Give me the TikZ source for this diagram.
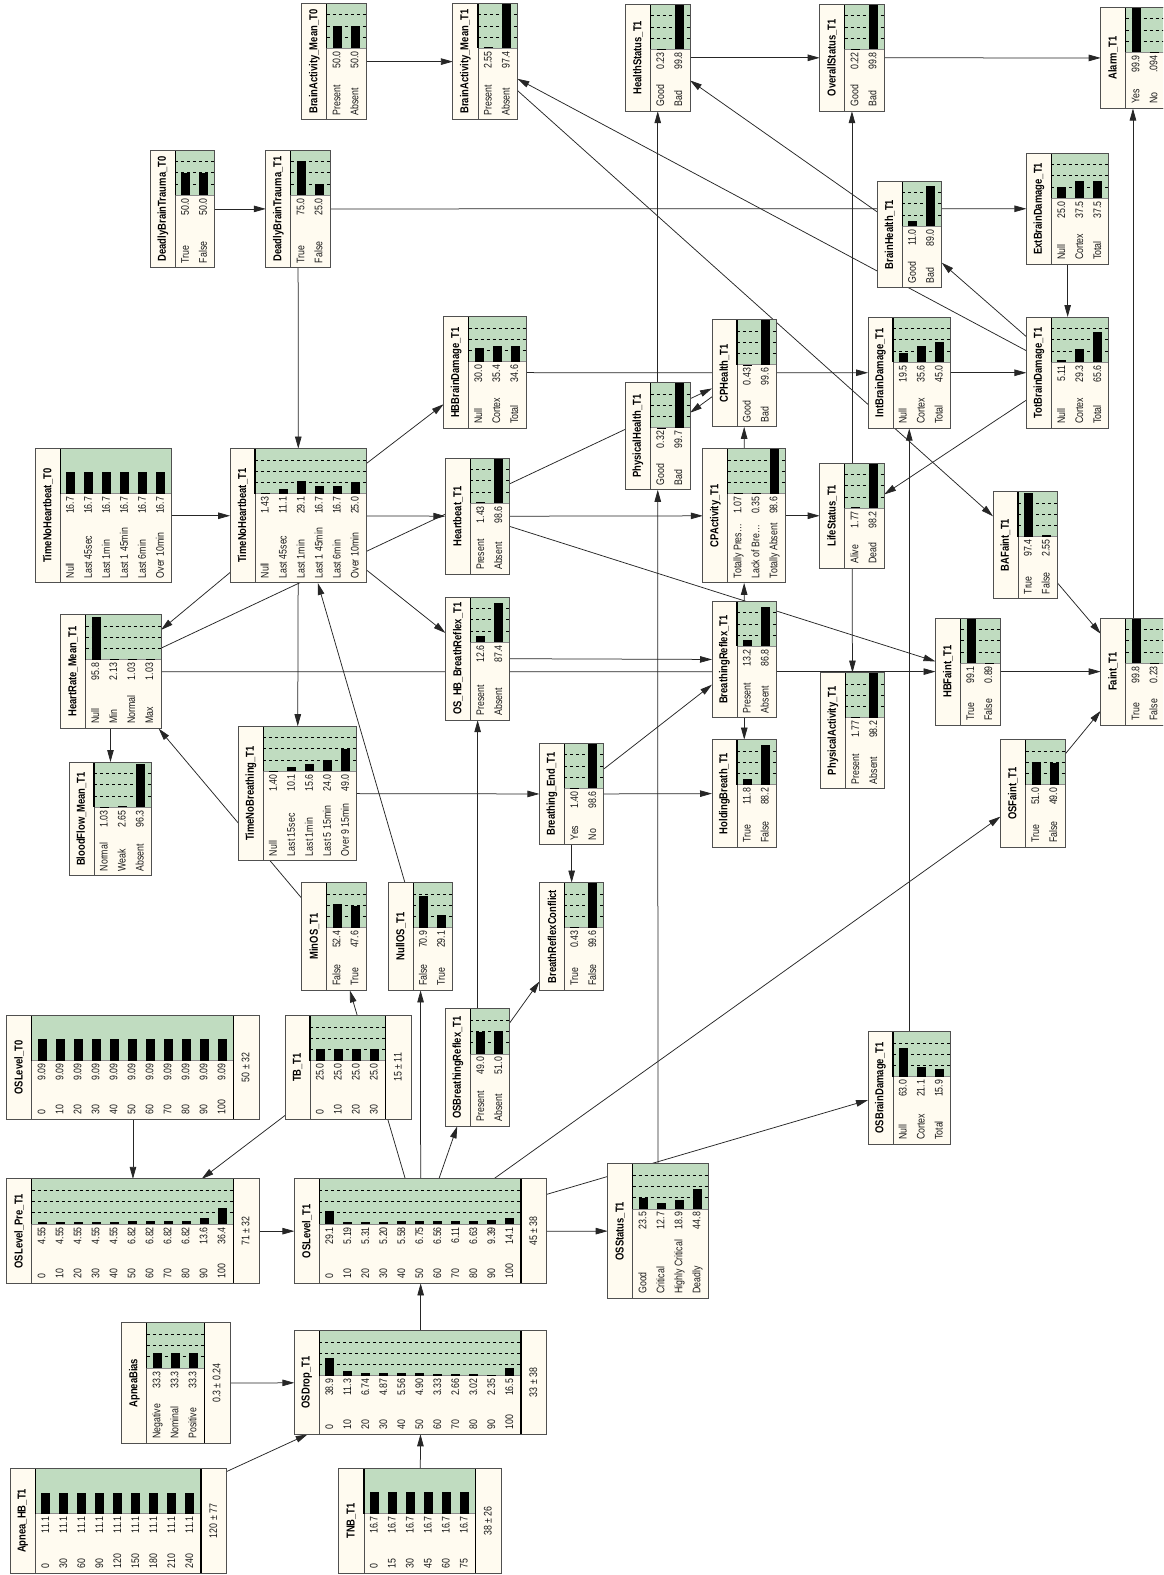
\documentclass[tikz,border=0pt]{standalone}
\usepackage{fontspec}
\newfontfamily\nf[FakeStretch=0.8]{Liberation Sans}
\newfontfamily\tf[FakeStretch=0.82]{Liberation Sans}
\usetikzlibrary{arrows.meta}
\pgfdeclarelayer{bg}\pgfsetlayers{bg,main}
\definecolor{cream}{HTML}{FFFBF0}
\definecolor{mgreen}{HTML}{C0DCC0}
\definecolor{bcol}{HTML}{505050}
\tikzset{
 lbl/.style={font=\nf\fontsize{11}{11}\selectfont, inner sep=0pt, rotate=90, text=black!90, text height=8pt, text depth=1.8pt},
 ttl/.style={font=\tf\bfseries\fontsize{11.5}{11.5}\selectfont, inner sep=0pt, rotate=90},
 lnk/.style={draw=black!85, line width=0.75pt, -{Triangle[length=12pt,width=6.5pt]}},
}
% #1 name, #2 x0, #3 y0, #4 height, #5 number of states, #6 title, #7 label/value list, #8 mean text, #9 bar scale (1 = dashed grid)
\newcommand{\bn}[9]{%
  \pgfmathsetmacro\Xa{#2}%
  \pgfmathsetmacro\Ya{#3}%
  \pgfmathsetmacro\Yb{#3+#4}%
  \pgfmathsetmacro\Xt{#2+25}%
  \pgfmathsetmacro\Xg{#2+25+21.5+18*(#5-1)}%
  \def\bnmean{#8}%
  \ifx\bnmean\empty\let\Xb\Xg\else\pgfmathsetmacro\Xb{\Xg+26}\fi
  \pgfmathsetmacro\Yg{#3+45}%
  \pgfmathsetmacro\Wd{\Xb-\Xa}%
  \node[draw=bcol, line width=1pt, fill=cream, inner sep=0pt, outer sep=0pt, minimum width=\Wd pt, minimum height=#4 pt] (#1) at ({(\Xa+\Xb)/2},{(\Ya+\Yb)/2}) {};
  \fill[mgreen] (\Xt,\Ya) rectangle (\Xg,\Yg);
  \ifdim#9pt=1pt
    \foreach \f in {0.25,0.5,0.75}{\draw[black, line width=0.5pt, dash pattern=on 3pt off 3pt] (\Xt,{\Yg-45*\f}) -- (\Xg,{\Yg-45*\f});}
  \fi
  \draw[black!45, line width=0.5pt] (\Xt,\Yg) -- (\Xg,\Yg);
  \foreach \lab/\val [count=\i from 0] in {#7}{%
    \pgfmathsetmacro\cx{\Xt+10.5+18*\i}%
    \pgfmathsetmacro\bh{min(\val*#9,100)*0.45}%
    \fill[black] ({\cx-4.5},\Yg) rectangle ({\cx+4.5},{\Yg-\bh});
    \node[lbl, anchor=west] at (\cx,{\Yb-4.5}) {\lab};
    \node[lbl, anchor=east] at (\cx,{\Yg+3}) {\val};
  }%
  \draw[bcol, line width=0.8pt] (\Xt,\Ya) -- (\Xt,\Yb);
  \draw[black, line width=1.3pt] (\Xt,\Ya) -- (\Xt,\Yg);
  \ifx\bnmean\empty\else
    \draw[black, line width=1.3pt] (\Xg,\Ya) -- (\Xg,\Yb);
    \node[lbl] at ({\Xg+13},{(\Ya+\Yb)/2}) {#8};
  \fi
  \draw[bcol, line width=1pt] (\Xa,\Ya) rectangle (\Xb,\Yb);
  \node[ttl] at ({\Xa+12.5},{(\Ya+\Yb)/2}) {#6};
}
\begin{document}
\begin{tikzpicture}[x=1pt,y=-1pt]
\useasboundingbox (0,0) rectangle (1163,1575);
\clip (0,0) rectangle (1163,1575);
\bn{bat0}{301.8}{3.3}{116.6}{2}{BrainActivity\_Mean\_T0}{Present/50.0,Absent/50.0}{}{1}
\bn{bat1}{452.9}{3.3}{116.6}{2}{BrainActivity\_Mean\_T1}{Present/2.55,Absent/97.4}{}{1}
\bn{hs}{625.5}{4.4}{106.8}{2}{HealthStatus\_T1}{Good/0.23,Bad/99.8}{}{1}
\bn{ovs}{819.7}{4.4}{106.8}{2}{OverallStatus\_T1}{Good/0.22,Bad/99.8}{}{1}
\bn{alarm}{1100.7}{7.4}{101.1}{2}{Alarm\_T1}{Yes/99.9,No/.094}{}{1}
\bn{dbt0}{150.3}{150}{117.8}{2}{DeadlyBrainTrauma\_T0}{True/50.0,False/50.0}{}{1}
\bn{dbt1}{265.8}{150}{117.8}{2}{DeadlyBrainTrauma\_T1}{True/75.0,False/25.0}{}{1}
\bn{brainh}{877.2}{181.1}{106.8}{2}{BrainHealth\_T1}{Good/11.0,Bad/89.0}{}{1}
\bn{extbd}{1026.4}{153}{111.5}{3}{ExtBrainDamage\_T1}{Null/25.0,Cortex/37.5,Total/37.5}{}{1}
\bn{hbbd}{443.6}{316.7}{111.8}{3}{HBBrainDamage\_T1}{Null/30.0,Cortex/35.4,Total/34.6}{}{1}
\bn{cph}{712}{319.7}{107.2}{2}{CPHealth\_T1}{Good/0.43,Bad/99.6}{}{1}
\bn{physh}{625.5}{382.7}{107.1}{2}{PhysicalHealth\_T1}{Good/0.32,Bad/99.7}{}{1}
\bn{intbd}{868}{317}{111.5}{3}{IntBrainDamage\_T1}{Null/19.5,Cortex/35.6,Total/45.0}{}{1}
\bn{totbd}{1026.4}{317}{111.5}{3}{TotBrainDamage\_T1}{Null/5.11,Cortex/29.3,Total/65.6}{}{1}
\bn{tnh0}{35.3}{448.6}{134.3}{6}{TimeNoHeartbeat\_T0}{Null/16.7,Last 45sec/16.7,Last 1min/16.7,Last 1 45min/16.7,Last 6min/16.7,Over 10min/16.7}{}{2.9}
\bn{tnh1}{230.1}{448.6}{134.3}{6}{TimeNoHeartbeat\_T1}{Null/1.43,Last 45sec/11.1,Last 1min/29.1,Last 1 45min/16.7,Last 6min/16.7,Over 10min/25.0}{}{1}
\bn{hb}{445.4}{458}{116.5}{2}{Heartbeat\_T1}{Present/1.43,Absent/98.6}{}{1}
\bn{cpact}{702.8}{448.6}{134.3}{3}{CPActivity\_T1}{Totally Pres\ldots/1.07,Lack of Bre\ldots/0.35,Totally Absent/98.6}{}{1}
\bn{life}{819.7}{463}{105.5}{2}{LifeStatus\_T1}{Alive/1.77,Dead/98.2}{}{1}
\bn{bafaint}{993}{491.5}{107.2}{2}{BAFaint\_T1}{True/97.4,False/2.55}{}{1}
\bn{hr}{60.5}{614.7}{113.9}{4}{HeartRate\_Mean\_T1}{Null/95.8,Min/2.13,Normal/1.03,Max/1.03}{}{1}
\bn{oshb}{445.4}{597}{123.2}{2}{OS\_HB\_BreathReflex\_T1}{Present/12.6,Absent/87.4}{}{1}
\bn{breflex}{712}{601.3}{116.5}{2}{BreathingReflex\_T1}{Present/13.2,Absent/86.8}{}{1}
\bn{hbfaint}{935.5}{618}{107.2}{2}{HBFaint\_T1}{True/99.1,False/0.89}{}{1}
\bn{faint}{1100.7}{618}{107.2}{2}{Faint\_T1}{True/99.8,False/0.23}{}{1}
\bn{physact}{820.4}{672.6}{116.2}{2}{PhysicalActivity\_T1}{Present/1.77,Absent/98.2}{}{1}
\bn{bflow}{69}{762}{113.9}{3}{BloodFlow\_Mean\_T1}{Normal/1.03,Weak/2.65,Absent/96.3}{}{1}
\bn{tnbr}{238.3}{726.2}{134.6}{5}{TimeNoBreathing\_T1}{Null/1.40,Last 15sec/10.1,Last 1min/15.6,Last 5 15min/24.0,Over 9 15min/49.0}{}{1}
\bn{bend}{539.4}{743.3}{101.4}{2}{Breathing\_End\_T1}{Yes/1.40,No/98.6}{}{1}
\bn{holdb}{712}{739.6}{107.8}{2}{HoldingBreath\_T1}{True/11.8,False/88.2}{}{1}
\bn{osfaint}{1000.5}{739.6}{107.8}{2}{OSFaint\_T1}{True/51.0,False/49.0}{}{1}
\bn{minos}{301.8}{882.6}{107.8}{2}{MinOS\_T1}{False/52.4,True/47.6}{}{1}
\bn{nullos}{388.3}{882.6}{107.8}{2}{NullOS\_T1}{False/70.9,True/29.1}{}{1}
\bn{brconf}{539.4}{882.6}{107.8}{2}{BreathReflexConflict}{True/0.43,False/99.6}{}{1}
\bn{osl0}{6.7}{1015.5}{103.8}{11}{OSLevel\_T0}{0/9.09,10/9.09,20/9.09,30/9.09,40/9.09,50/9.09,60/9.09,70/9.09,80/9.09,90/9.09,100/9.09}{50 ± 32}{5.2}
\bn{tb}{285.1}{1015.5}{103.8}{4}{TB\_T1}{0/25.0,10/25.0,20/25.0,30/25.0}{15 ± 11}{1}
\bn{osbr}{445.4}{1008.8}{117.5}{2}{OSBreathingReflex\_T1}{Present/49.0,Absent/51.0}{}{1}
\bn{osbd}{868}{1031.6}{112.8}{3}{OSBrainDamage\_T1}{Null/63.0,Cortex/21.1,Total/15.9}{}{1}
\bn{oslpre}{6.7}{1178.9}{104.5}{11}{OSLevel\_Pre\_T1}{0/4.55,10/4.55,20/4.55,30/4.55,40/4.55,50/6.82,60/6.82,70/6.82,80/6.82,90/13.6,100/36.4}{71 ± 32}{1}
\bn{osl1}{294.4}{1178.9}{104.5}{11}{OSLevel\_T1}{0/29.1,10/5.19,20/5.31,30/5.20,40/5.58,50/6.75,60/6.56,70/6.11,80/6.63,90/9.39,100/14.1}{45 ± 38}{1}
\bn{osst}{607.7}{1163.8}{134.6}{4}{OSStatus\_T1}{Good/23.5,Critical/12.7,Highly Critical/18.9,Deadly/44.8}{}{1}
\bn{abias}{121.8}{1322.9}{120.5}{3}{ApneaBias}{Negative/33.3,Nominal/33.3,Positive/33.3}{0.3 ± 0.24}{1}
\bn{osdrop}{294.4}{1330.6}{103.7}{11}{OSDrop\_T1}{0/38.9,10/11.3,20/6.74,30/4.87,40/5.56,50/4.90,60/3.33,70/2.66,80/3.02,90/2.35,100/16.5}{33 ± 38}{1}
\bn{ahb}{10.4}{1468.5}{104.8}{9}{Apnea\_HB\_T1}{0/11.1,30/11.1,60/11.1,90/11.1,120/11.1,150/11.1,180/11.1,210/11.1,240/11.1}{120 ± 77}{4.1}
\bn{tnbt}{338.9}{1468.5}{104.8}{6}{TNB\_T1}{0/16.7,15/16.7,30/16.7,45/16.7,60/16.7,75/16.7}{38 ± 26}{2.9}
\begin{pgfonlayer}{bg}
\fill[white] (0,0) rectangle (1163,1575);
\foreach \a/\b in {bat0/bat1, dbt0/dbt1, dbt1/tnh1, dbt1/extbd, extbd/totbd, intbd/totbd, hbbd/intbd,
  totbd/brainh, totbd/life, brainh/hs, totbd/bat1, bat1/bafaint, hs/ovs, ovs/alarm, physh/hs, life/ovs,
  faint/alarm, cpact/cph, cph/physh, hr/cph, tnh0/tnh1, tnh1/hb, tnh1/hbbd, tnh1/hr, tnh1/oshb, tnh1/tnbr,
  hb/cpact, cpact/life, hb/hbfaint, minos/hr, nullos/tnh1, hr/bflow, hr/hbfaint, oshb/breflex,
  hbfaint/faint, life/physact, breflex/cpact, breflex/holdb, bend/breflex, bend/holdb, tnbr/bend,
  bend/brconf, osbr/brconf, osbr/oshb, bafaint/faint, osfaint/faint, osl1/osfaint, osst/physh,
  osl1/osbd, osl1/osst, osbd/intbd, osl1/osbr, osl1/nullos, osl1/minos, osl0/oslpre, tb/oslpre,
  oslpre/osl1, osdrop/osl1, abias/osdrop, ahb/osdrop, tnbt/osdrop}
  {\draw[lnk] (\a) -- (\b);}
\end{pgfonlayer}
\end{tikzpicture}
\end{document}
